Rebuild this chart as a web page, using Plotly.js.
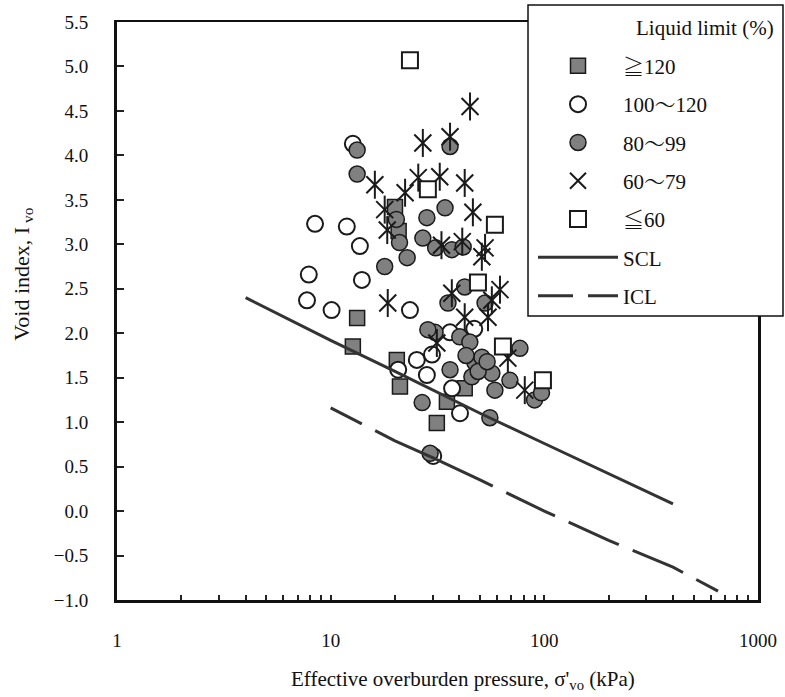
<!DOCTYPE html>
<html>
<head>
<meta charset="utf-8">
<script src="https://cdn.plot.ly/plotly-3.0.1.min.js"></script>
<style>html,body{margin:0;padding:0;background:#fff;}#chart{width:785px;height:697px;}</style>
</head>
<body>
<div id="chart"></div>
<script>
// Liquid limit >= 120 (filled squares)
var ll120X = [13.3, 12.7, 20.4, 21.1, 42.4, 35.0, 31.4, 20.0, 20.8];
var ll120Y = [2.17, 1.85, 1.70, 1.40, 1.38, 1.23, 0.99, 3.42, 3.15];
// Liquid limit 100-120 (open circles)
var ll100X = [12.7, 8.45, 11.9, 13.7, 7.9, 14.0, 7.75, 10.1, 23.5, 25.3, 28.2, 20.7, 37.0, 40.3, 36.2, 29.8, 30.2, 47.0];
var ll100Y = [4.13, 3.23, 3.20, 2.98, 2.66, 2.60, 2.37, 2.26, 2.26, 1.70, 1.53, 1.59, 1.38, 1.10, 2.01, 1.76, 0.62, 2.05];
// Liquid limit 80-99 (filled circles)
var ll80X = [13.3, 13.3, 36.2, 17.9, 28.2, 34.3, 27.0, 31.0, 36.9, 41.7, 22.8, 42.4, 35.4, 52.8, 30.8, 40.2, 44.8, 36.2, 47.3, 52.8, 56.8, 45.8, 51.0, 76.9, 69.0, 58.7, 90.0, 97.0, 26.8, 55.6, 29.2, 20.3, 21.0, 43.0, 49.0, 54.0, 28.5];
var ll80Y = [4.06, 3.79, 4.10, 2.75, 3.30, 3.41, 3.07, 2.96, 2.94, 2.97, 2.85, 2.52, 2.34, 2.34, 2.01, 1.96, 1.90, 1.59, 1.67, 1.62, 1.55, 1.51, 1.73, 1.83, 1.47, 1.36, 1.25, 1.33, 1.22, 1.05, 0.65, 3.28, 3.02, 1.75, 1.57, 1.68, 2.04];
// Liquid limit 60-79 (asterisks)
var ll60X = [44.9, 27.0, 36.2, 16.1, 18.4, 17.9, 25.7, 32.4, 42.4, 22.3, 46.3, 41.3, 52.8, 33.0, 62.0, 51.0, 36.9, 56.8, 18.5, 42.4, 54.5, 31.4, 67.5, 81.0];
var ll60Y = [4.55, 4.14, 4.21, 3.67, 3.16, 3.39, 3.75, 3.76, 3.69, 3.58, 3.36, 3.03, 2.96, 2.99, 2.49, 2.86, 2.45, 2.37, 2.34, 2.18, 2.18, 1.89, 1.72, 1.36];
// Liquid limit <= 60 (open squares)
var llLowX = [23.5, 28.5, 58.7, 48.9, 64.0, 98.5];
var llLowY = [5.07, 3.62, 3.22, 2.57, 1.85, 1.47];
// SCL and ICL lines
var sclX = [4, 10, 20, 50, 100, 200, 400];
var sclY = [2.40, 1.92, 1.57, 1.10, 0.76, 0.42, 0.08];
var iclX = [10, 20, 30, 50, 100, 200, 400, 650];
var iclY = [1.16, 0.79, 0.60, 0.35, 0.00, -0.33, -0.63, -0.90];
// tick labels
var xTickVals = [1,2,3,4,5,6,7,8,9,10,20,30,40,50,60,70,80,90,100,200,300,400,500,600,700,800,900,1000];
var xTickText = ['1','','','','','','','','','10','','','','','','','','','100','','','','','','','','','1000'];
var seriesNames = ['\u2267120', '100\uFF5E120', '80\uFF5E99', '60\uFF5E79', '\u226660', 'SCL', 'ICL'];
var legendTitle = 'Liquid limit (%)';

var FONT = "'Liberation Serif', 'Times New Roman', 'Noto Serif CJK JP', 'Noto Sans CJK JP', serif";
var gray = '#808080';
var dark = '#1a1a1a';

var traces = [
  {x: ll120X, y: ll120Y, type: 'scatter', mode: 'markers', name: seriesNames[0], legendgroup: 'a',
   marker: {symbol: 'square', size: 15, color: gray, line: {color: dark, width: 1.5}}},
  {x: ll100X, y: ll100Y, type: 'scatter', mode: 'markers', name: seriesNames[1], legendgroup: 'b',
   marker: {symbol: 'circle', size: 16, color: '#ffffff', line: {color: dark, width: 2}}},
  {x: ll80X, y: ll80Y, type: 'scatter', mode: 'markers', name: seriesNames[2], legendgroup: 'c',
   marker: {symbol: 'circle', size: 16, color: gray, line: {color: dark, width: 1.5}}},
  {x: ll60X, y: ll60Y, type: 'scatter', mode: 'markers', name: seriesNames[3], legendgroup: 'd',
   marker: {symbol: 'x-thin-open', size: 17, color: dark, line: {color: dark, width: 2}}},
  {x: ll60X, y: ll60Y, type: 'scatter', mode: 'markers', name: seriesNames[3], legendgroup: 'd', showlegend: false,
   marker: {symbol: 'line-ns-open', size: 20, color: dark, line: {color: dark, width: 2}}},
  {x: llLowX, y: llLowY, type: 'scatter', mode: 'markers', name: seriesNames[4], legendgroup: 'e',
   marker: {symbol: 'square', size: 16, color: '#ffffff', line: {color: dark, width: 2}}},
  {x: sclX, y: sclY, type: 'scatter', mode: 'lines', name: seriesNames[5], legendgroup: 'f',
   line: {color: '#333333', width: 3}},
  {x: iclX, y: iclY, type: 'scatter', mode: 'lines', name: seriesNames[6], legendgroup: 'g',
   line: {color: '#333333', width: 3, dash: '35px,15px,130px,15px,54px,15px,55px,15px,55px,15px,60px'}}
];

var layout = {
  width: 785, height: 697,
  margin: {l: 117, r: 27, t: 22, b: 97},
  paper_bgcolor: '#ffffff', plot_bgcolor: '#ffffff',
  font: {family: FONT, color: '#111', size: 19},
  showlegend: true,
  xaxis: {
    type: 'log', range: [0, 3], tickmode: 'array', tickvals: xTickVals, ticktext: xTickText,
    ticks: 'inside', ticklen: 5, tickwidth: 2, tickcolor: '#222',
    showline: true, mirror: true, linewidth: 2.5, linecolor: '#111',
    showgrid: false, zeroline: false, ticklabelstandoff: 22,
    tickfont: {family: FONT, size: 19, color: '#111'}
  },
  yaxis: {
    range: [-1, 5.5], dtick: 0.5, tick0: 0, tickformat: '.1f',
    ticks: 'inside', ticklen: 7, tickwidth: 2, tickcolor: '#222',
    showline: true, mirror: true, linewidth: 3, linecolor: '#111',
    showgrid: false, zeroline: false, ticklabelstandoff: 22,
    tickfont: {family: FONT, size: 19, color: '#111'}
  },
  legend: {
    x: 0.649, y: 0.959, xanchor: 'left', yanchor: 'top',
    bgcolor: 'rgba(0,0,0,0)', borderwidth: 0,
    itemwidth: 80, traceorder: 'grouped', tracegroupgap: 8,
    font: {family: FONT, size: 21, color: '#111'}
  },
  shapes: [
    {type: 'rect', xref: 'paper', yref: 'paper', x0: 0.6412, x1: 1.039, y0: 0.4913, y1: 1.0294,
     layer: 'above', fillcolor: '#ffffff', line: {color: '#111', width: 1.5}}
  ],
  annotations: [
    {xref: 'paper', yref: 'paper', x: 1.028, y: 0.9896, xanchor: 'right', yanchor: 'middle', showarrow: false,
     text: legendTitle, font: {family: FONT, size: 21, color: '#111'}},
    {xref: 'paper', yref: 'paper', x: 0.54, y: -0.138, xanchor: 'center', yanchor: 'middle', showarrow: false,
     text: 'Effective overburden pressure, \u03C3\'<sub>vo</sub> (kPa)', font: {family: FONT, size: 21, color: '#111'}},
    {xref: 'paper', yref: 'paper', x: -0.148, y: 0.563, xanchor: 'center', yanchor: 'middle', showarrow: false, textangle: -90,
     text: 'Void index, I<sub> vo</sub>', font: {family: FONT, size: 22, color: '#111'}}
  ]
};

Plotly.newPlot('chart', traces, layout, {displayModeBar: false, staticPlot: true});
</script>
</body>
</html>
